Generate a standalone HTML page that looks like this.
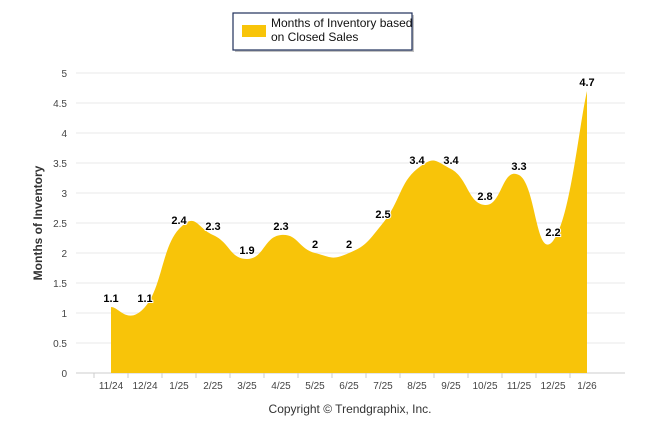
<!DOCTYPE html>
<html><head><meta charset="utf-8"><style>
body{margin:0;background:#fff;font-family:"Liberation Sans",sans-serif}
</style></head><body>
<svg id="chart" width="646" height="434" xmlns="http://www.w3.org/2000/svg" style="display:block">
<rect width="646" height="434" fill="#fff"/>
<g>
<rect x="235" y="15" width="179" height="37" fill="#999" opacity="0.6"/>
<rect x="233" y="13" width="179" height="37" fill="#fff" stroke="#1f2f5a" stroke-width="1.2"/>
<rect x="242" y="25" width="24" height="12" fill="#F8C409"/>
<text x="271" y="27" font-size="12" fill="#111">Months of Inventory based</text>
<text x="271" y="41" font-size="12" fill="#111">on Closed Sales</text>
</g>
<g id="grid"></g><g id="area"></g><g id="labels"></g>
<text transform="translate(42,223) rotate(-90)" text-anchor="middle" font-size="12" font-weight="bold" fill="#333">Months of Inventory</text>
<text x="350" y="413" text-anchor="middle" font-size="12" fill="#333">Copyright © Trendgraphix, Inc.</text>
</svg>
<script>
const categories=["11/24","12/24","1/25","2/25","3/25","4/25","5/25","6/25","7/25","8/25","9/25","10/25","11/25","12/25","1/26"];
const values=[1.1,1.1,2.4,2.3,1.9,2.3,2,2,2.5,3.4,3.4,2.8,3.3,2.2,4.7];
const yTicks=[0,0.5,1,1.5,2,2.5,3,3.5,4,4.5,5];
const NS="http://www.w3.org/2000/svg";
const x0=111,dx=34,yb=373,ppu=60;
const X=i=>x0+i*dx, Y=v=>yb-v*ppu;
function mk(t,a,p){const e=document.createElementNS(NS,t);for(const k in a)e.setAttribute(k,a[k]);p.appendChild(e);return e;}
const g=document.getElementById('grid');
yTicks.forEach(v=>{
 const l=mk('line',{x1:76,x2:625,y1:Y(v),y2:Y(v),stroke:v===0?'#ccc':'#e8e8e8'},g);
 
 
 const t=mk('text',{x:67,y:Y(v)+4,'text-anchor':'end','font-size':10,fill:'#444'},g);
 
 
 t.textContent=v;
});
categories.forEach((c,i)=>{
 const tk=mk('line',{x1:X(i)-dx/2,x2:X(i)-dx/2,y1:yb,y2:yb+5,stroke:'#ccc'},g);
 
 
 const t=mk('text',{x:X(i),y:yb+16,'text-anchor':'middle','font-size':10,fill:'#444'},g);
 
 
 t.textContent=c;
});
const pts=values.map((v,i)=>[X(i),Y(v)]);
let d=`M${pts[0][0]},${yb}L${pts[0][0]},${pts[0][1]}`;
for(let i=0;i<pts.length-1;i++){
 const p0=pts[Math.max(i-1,0)],p1=pts[i],p2=pts[i+1],p3=pts[Math.min(i+2,pts.length-1)];
 const k=0.25;
 d+=`C${p1[0]+(p2[0]-p0[0])*k},${p1[1]+(p2[1]-p0[1])*k} ${p2[0]-(p3[0]-p1[0])*k},${p2[1]-(p3[1]-p1[1])*k} ${p2[0]},${p2[1]}`;
}
d+=`L${pts[pts.length-1][0]},${yb}Z`;
const a=mk('path',{d:d,fill:'#F8C409'},document.getElementById('area'));


const lg=document.getElementById('labels');
values.forEach((v,i)=>{
 const t=mk('text',{x:X(i),y:Y(v)-5,'text-anchor':'middle','font-size':11,'font-weight':'bold',fill:'#000',stroke:'#fff','stroke-width':2,'paint-order':'stroke'},lg);
 
 
 t.textContent=v;
});
</script>
</body></html>
